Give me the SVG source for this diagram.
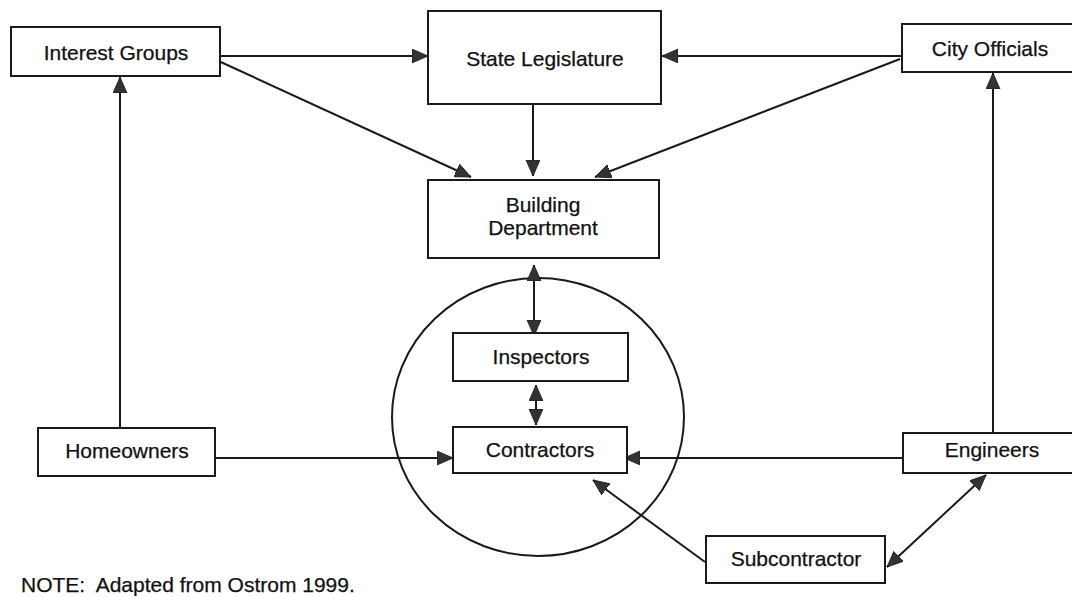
<svg xmlns="http://www.w3.org/2000/svg" width="1072" height="596" viewBox="0 0 1072 596">
  <style>
    .box { fill: #ffffff; stroke: #1a1a1a; stroke-width: 2; }
    .lbl { font-family: "Liberation Sans", Arial, sans-serif; font-size: 21px; fill: #111111; stroke: #111111; stroke-width: 0.25; text-anchor: middle; }
    .note { font-family: "Liberation Sans", Arial, sans-serif; font-size: 21px; fill: #111111; stroke: #111111; stroke-width: 0.25; }
    .conn { fill: none; stroke: #1a1a1a; stroke-width: 2; }
    .one { marker-end: url(#ah); }
    .two { marker-start: url(#ah); marker-end: url(#ah); }
  </style>
  <defs>
    <marker id="ah" markerUnits="userSpaceOnUse" markerWidth="18" markerHeight="16" refX="16" refY="7" orient="auto-start-reverse">
      <path d="M0,0 L16,7 L0,14 Z" fill="#333333" stroke="#1a1a1a" stroke-width="0.8"/>
    </marker>
  </defs>
  <rect width="1072" height="596" fill="#ffffff"/>

  <g id="circle-boundary">
    <ellipse cx="538" cy="417" rx="146" ry="139" fill="none" stroke="#1a1a1a" stroke-width="2"/>
  </g>

  <g id="connectors">
    <path class="conn one" d="M220,56 L428,56"/>
    <path class="conn one" d="M212,58 L471,177"/>
    <path class="conn one" d="M533,104 L533,176"/>
    <path class="conn one" d="M902,56 L662,56"/>
    <path class="conn one" d="M900,59 L595,177"/>
    <path class="conn one" d="M120,428 L120,77"/>
    <path class="conn one" d="M993,433 L993,73"/>
    <path class="conn two" d="M534,265 L534,336"/>
    <path class="conn two" d="M536,385 L536,425"/>
    <path class="conn one" d="M207,458 L453,458"/>
    <path class="conn one" d="M903,458 L624,458"/>
    <path class="conn one" d="M705,562 L593,480"/>
    <path class="conn two" d="M887,567 L986,475"/>
  </g>

  <g id="interest-groups">
    <rect class="box" x="11" y="27" width="209" height="49"/>
    <text class="lbl" x="116" y="60">Interest Groups</text>
  </g>
  <g id="state-legislature">
    <rect class="box" x="428" y="11" width="233" height="93"/>
    <text class="lbl" x="545" y="66">State Legislature</text>
  </g>
  <g id="city-officials">
    <rect class="box" x="902" y="24" width="180" height="48"/>
    <text class="lbl" x="990" y="56">City Officials</text>
  </g>
  <g id="building-department">
    <rect class="box" x="428" y="180" width="231" height="78"/>
    <text class="lbl" x="543" y="212">Building</text>
    <text class="lbl" x="543" y="235">Department</text>
  </g>
  <g id="inspectors">
    <rect class="box" x="453" y="333" width="175" height="48"/>
    <text class="lbl" x="541" y="364">Inspectors</text>
  </g>
  <g id="contractors">
    <rect class="box" x="453" y="427" width="174" height="46"/>
    <text class="lbl" x="540" y="457">Contractors</text>
  </g>
  <g id="homeowners">
    <rect class="box" x="38" y="428" width="177" height="48"/>
    <text class="lbl" x="127" y="458">Homeowners</text>
  </g>
  <g id="engineers">
    <rect class="box" x="903" y="433" width="180" height="40"/>
    <text class="lbl" x="992" y="457">Engineers</text>
  </g>
  <g id="subcontractor">
    <rect class="box" x="706" y="536" width="179" height="47"/>
    <text class="lbl" x="796" y="566">Subcontractor</text>
  </g>

  <text class="note" x="21" y="592" xml:space="preserve">NOTE:  Adapted from Ostrom 1999.</text>
</svg>
